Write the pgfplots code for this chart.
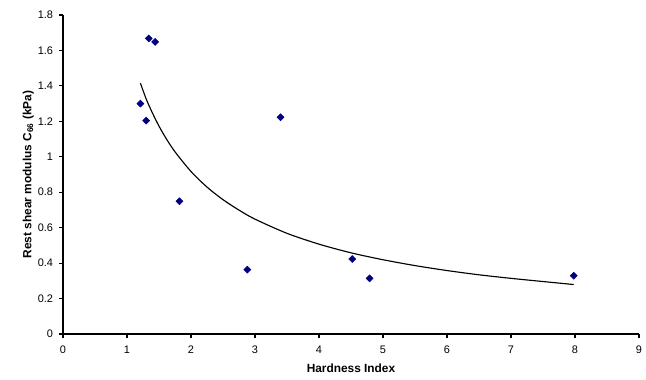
\documentclass[border=0pt]{standalone}
\usepackage{pgfplots}
\pgfplotsset{compat=1.18}
\usepackage{fontspec}
\setmainfont{Liberation Sans}
\usetikzlibrary{calc}
\definecolor{navy}{RGB}{0,0,128}
\begin{document}
\begin{tikzpicture}
\begin{axis}[
  scale only axis,
  width=432pt, height=239.25pt,
  xmin=0, xmax=9, ymin=0, ymax=1.8,
  xtick={0,1,...,9},
  ytick={0,0.2,0.4,0.6,0.8,1,1.2,1.4,1.6,1.8},
  yticklabels={0,0.2,0.4,0.6,0.8,1,1.2,1.4,1.6,1.8},
  axis x line=bottom, axis y line=left,
  axis line style={-, line width=0.9pt},
  tick align=outside,
  major tick length=3pt,
  tick style={black, line width=0.8pt},
  /pgf/number format/assume math mode=true,
  ticklabel style={font=\fontsize{8.2}{10}\selectfont},
  xticklabel style={yshift=-2.5pt},
  yticklabel style={xshift=-1pt},
  xlabel={\textbf{Hardness Index}},
  ylabel={\textbf{Rest shear modulus C\textsubscript{66} (kPa)}},
  label style={font=\fontsize{8.9}{10}\selectfont},
  xlabel style={yshift=-0.5pt},
  ylabel style={yshift=-4pt},
  clip=false,
]
\addplot[only marks, mark=square*, mark size=1.85pt, color=navy, mark options={fill=navy, rotate=45}] coordinates {
(1.21,1.30) (1.30,1.204) (1.34,1.668) (1.44,1.648) (1.82,0.749)
(2.88,0.363) (3.40,1.223) (4.52,0.423) (4.79,0.314) (7.98,0.329)
};
\addplot[black, line width=0.85pt, smooth, no marks] coordinates {
(1.21,1.415) (1.3,1.326) (1.4,1.245) (1.5,1.173) (1.6,1.110) (1.75,1.028) (2,0.917)
(2.25,0.829) (2.5,0.758) (2.75,0.699) (3,0.648) (3.5,0.568) (4,0.507) (4.5,0.458) (5,0.419)
(5.5,0.386) (6,0.358) (6.5,0.334) (7,0.314) (7.5,0.296) (7.98,0.279)
};
\coordinate (o) at (rel axis cs:0,0);
\coordinate (e) at (rel axis cs:1,1);
\end{axis}
\pgfresetboundingbox
\path ($(o)+(-47.25pt,-34.5pt)$) rectangle ($(e)+(5.25pt,11.25pt)$);
\end{tikzpicture}
\end{document}
